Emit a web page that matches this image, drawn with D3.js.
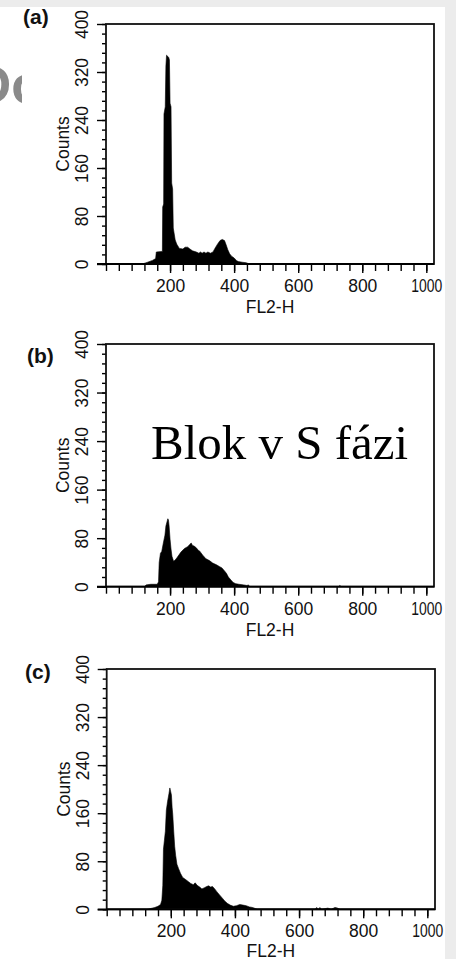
<!DOCTYPE html>
<html><head><meta charset="utf-8">
<script src="https://cdn.jsdelivr.net/npm/d3@7"></script>
<style>body{margin:0;background:#fff}svg{display:block}</style>
</head><body>
<svg id="chart" width="456" height="959"></svg>
<script>
// ---- data ----
const panelLabels = ["(a)", "(b)", "(c)"];
const xLabel = "FL2-H";
const yLabel = "Counts";
const yTickLabels = [0, 80, 160, 240, 320, 400];
const xTickLabels = [200, 400, 600, 800, 1000];
const annotation = "Blok v S fázi";

// [channel, counts]
const histA = [[0,0],[112,0],[119,1],[130,3],[145,6],[155,9],[157,20],[176,21],[177,95],[180,100],[181,250],[185,262],[187,330],[189,348],[193,346],[196,344],[198,340],[200,268],[203,262],[205,135],[208,125],[210,60],[213,50],[216,40],[221,33],[229,26],[240,25],[247,28],[255,28],[262,25],[270,22],[282,20],[290,18],[295,20],[300,18],[306,20],[312,18],[318,20],[326,18],[334,20],[340,26],[348,33],[356,39],[363,41],[370,39],[375,32],[380,24],[386,17],[392,13],[400,10],[407,6],[413,4],[425,3],[438,2],[448,0],[1023,0]];
const histB = [[0,0],[120,0],[125,3],[140,4],[160,4],[164,8],[166,40],[170,55],[174,58],[179,72],[184,85],[187,100],[191,108],[193,112],[195,110],[197,100],[200,78],[203,62],[206,50],[211,42],[216,44],[222,48],[234,57],[245,63],[255,66],[262,70],[266,72],[270,68],[275,67],[282,64],[288,60],[292,59],[302,52],[312,46],[323,43],[333,39],[345,36],[355,33],[362,31],[370,26],[376,22],[382,16],[390,11],[397,7],[405,5],[415,4],[430,3],[440,2],[445,3],[448,0],[725,0],[730,2],[735,0],[1023,0]];
const histC = [[0,0],[125,0],[135,1],[150,3],[160,5],[168,8],[172,15],[175,40],[177,100],[180,115],[183,130],[186,165],[190,180],[194,192],[197,202],[200,195],[202,190],[204,170],[206,158],[209,130],[212,105],[215,90],[219,75],[224,68],[230,60],[237,53],[245,50],[255,46],[262,43],[270,41],[276,44],[282,40],[290,37],[297,34],[305,36],[312,38],[318,39],[324,37],[330,38],[337,34],[344,29],[352,24],[360,19],[368,14],[376,10],[385,7],[395,5],[405,6],[415,8],[425,7],[435,6],[445,4],[455,3],[465,1],[470,0],[650,0],[655,3],[660,0],[665,3],[670,0],[690,2],[700,0],[712,3],[720,2],[728,0],[1023,0]];
const histograms = [histA, histB, histC];

// ---- layout ----
const panels = [
  {left:106, right:434, top:24, bottom:264, labelX:23, labelY:24},
  {left:106, right:434, top:344, bottom:586.7, labelX:27, labelY:363},
  {left:106.7, right:435, top:669, bottom:909.3, labelX:25, labelY:679}
];
const svg = d3.select("#chart");
const FONT = "'Liberation Sans', Arial, Helvetica, sans-serif";
const FS = 17.5;

// slide background
svg.append("rect").attr("x",0).attr("y",0).attr("width",456).attr("height",959).attr("fill","#ececec");
svg.append("rect").attr("x",0).attr("y",7).attr("width",445).attr("height",952).attr("fill","#ffffff");
const defs = svg.append("defs");
defs.append("clipPath").attr("id","slideClip").append("rect").attr("x",0).attr("y",0).attr("width",22).attr("height",959);
svg.append("text").attr("clip-path","url(#slideClip)").attr("x",-27).attr("y",103)
  .attr("font-family",FONT).attr("font-weight","bold").attr("font-size",53).attr("fill","#8a8a8a").text("Do");

histograms.forEach((data, i) => {
  const p = panels[i];
  const x = d3.scaleLinear().domain([0, 1024]).range([p.left, p.right]);
  const y = d3.scaleLinear().domain([0, 400]).range([p.bottom, p.top]);
  const g = svg.append("g");

  const cid = "clip" + i;
  defs.append("clipPath").attr("id", cid).append("rect")
    .attr("x", p.left).attr("y", p.top).attr("width", p.right - p.left).attr("height", p.bottom - p.top);

  const area = d3.area().x(d => x(d[0])).y0(y(0)).y1(d => y(d[1]));
  g.append("path").datum(data).attr("clip-path", `url(#${cid})`)
    .attr("d", area).attr("fill", "#000").attr("stroke", "#000").attr("stroke-width", 0.6);

  // minor y ticks
  const yMinor = d3.axisLeft(y).tickValues(d3.range(0, 401, 16)).tickSize(4).tickFormat("");
  g.append("g").attr("transform", `translate(${p.left},0)`).call(yMinor)
    .call(s => s.select(".domain").remove())
    .call(s => s.selectAll("line").attr("stroke", "#000").attr("stroke-width", 1.4));
  // major y ticks
  const yMajor = d3.axisLeft(y).tickValues(yTickLabels).tickSize(9).tickPadding(0).tickFormat(d3.format("d"));
  g.append("g").attr("transform", `translate(${p.left},0)`).call(yMajor)
    .call(s => s.select(".domain").remove())
    .call(s => s.selectAll("line").attr("stroke", "#000").attr("stroke-width", 1.4))
    .call(s => s.selectAll("text")
      .attr("transform", "rotate(-90)").attr("x", 0).attr("dy", null).attr("y", -18)
      .attr("text-anchor", "middle")
      .attr("font-family", FONT).attr("font-size", FS).attr("fill", "#111"));

  // minor x ticks
  const xMinor = d3.axisBottom(x).tickValues(d3.range(0, 1001, 40)).tickSize(7).tickFormat("");
  g.append("g").attr("transform", `translate(0,${p.bottom})`).call(xMinor)
    .call(s => s.select(".domain").remove())
    .call(s => s.selectAll("line").attr("stroke", "#000").attr("stroke-width", 1.4));
  const xMajor = d3.axisBottom(x).tickValues(xTickLabels).tickSize(9).tickPadding(7).tickFormat(d3.format("d"));
  g.append("g").attr("transform", `translate(0,${p.bottom})`).call(xMajor)
    .call(s => s.select(".domain").remove())
    .call(s => s.selectAll("line").attr("stroke", "#000").attr("stroke-width", 1.4))
    .call(s => s.selectAll("text").attr("dy", null).attr("y", 28).attr("font-family", FONT)
      .attr("font-size", FS).attr("fill", "#111")
      .each(function(d){ if (d === 1000) d3.select(this).attr("textLength", 31).attr("lengthAdjust", "spacingAndGlyphs"); }));

  // frame
  g.append("rect").attr("x", p.left).attr("y", p.top).attr("width", p.right - p.left).attr("height", p.bottom - p.top)
    .attr("fill", "none").attr("stroke", "#111").attr("stroke-width", 1.8);
  // baseline extension to 0 tick
  g.append("line").attr("x1", p.left - 9).attr("x2", p.right).attr("y1", y(0)).attr("y2", y(0))
    .attr("stroke", "#000").attr("stroke-width", 1.8);

  // axis titles
  g.append("text").attr("x", (p.left + p.right) / 2).attr("y", Math.min(p.bottom + 49, 956.5))
    .attr("text-anchor", "middle").attr("font-family", FONT).attr("font-size", FS).attr("fill", "#111").text(xLabel);
  g.append("text").attr("transform", `translate(${p.left - 37},${(p.top + p.bottom) / 2}) rotate(-90)`)
    .attr("text-anchor", "middle").attr("font-family", FONT).attr("font-size", FS).attr("fill", "#111").text(yLabel);

  // panel label
  g.append("text").attr("x", p.labelX).attr("y", p.labelY).attr("font-family", FONT).attr("font-weight", "bold")
    .attr("font-size", 21).attr("fill", "#111").text(panelLabels[i]);
});

// annotation on panel (b)
svg.append("text").attr("x", 151).attr("y", 459)
  .attr("font-family", "'Liberation Serif', 'Times New Roman', serif").attr("font-size", 48).attr("fill", "#000")
  .attr("textLength", 257).attr("lengthAdjust", "spacingAndGlyphs").text(annotation);
</script>
</body></html>
